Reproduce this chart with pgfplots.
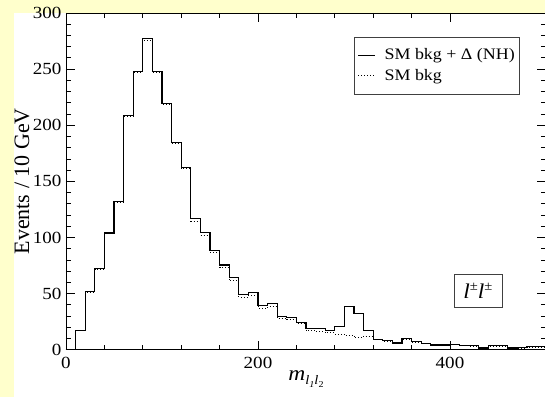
\documentclass[border=0pt]{standalone}
\usepackage{fontspec}
\setmainfont{Liberation Serif}[FakeStretch=1.12]
\newfontfamily\labfont{Liberation Serif}
\usepackage{pgfplots}
\pgfplotsset{compat=1.18}
\definecolor{bgyellow}{RGB}{255,255,204}
\begin{document}
\begin{tikzpicture}
\useasboundingbox (-66bp,-47.3bp) rectangle (479bp,349.7bp);
\fill[bgyellow] (-66bp,-47.3bp) rectangle (479bp,349.7bp);
\fill[white] (-52bp,-47.3bp) rectangle (479bp,336.7bp);
\begin{axis}[
  scale only axis, width=480bp, height=336.7bp,
  xmin=0, xmax=500, ymin=0, ymax=300,
  axis line style={line width=0.9bp},
  xtick={0,200,400}, minor x tick num=4,
  ytick={0,50,...,300}, minor y tick num=4,
  tick align=inside, xtick pos=both, ytick pos=both,
  major tick length=9bp, minor tick length=5bp,
  every tick/.style={black, line width=0.8bp},
  /pgf/number format/assume math mode=true,
  ticklabel style={font=\fontsize{17bp}{20bp}\selectfont, inner sep=1bp},
  xticklabel style={yshift=-6.2bp},
  yticklabel style={xshift=-3.4bp},
  xlabel={\textit{m}\raisebox{-0.45ex}{\fontsize{13bp}{14bp}\selectfont\textit{l}\raisebox{-0.4ex}{\fontsize{9bp}{10bp}\selectfont\textit{1}}\textit{l}\raisebox{-0.4ex}{\fontsize{9bp}{10bp}\selectfont 2}}},
  every axis x label/.style={at={(axis description cs:0.5,0)}, yshift=-29bp, anchor=center, font=\fontsize{21bp}{24bp}\selectfont},
  ylabel={Events / 10 GeV},
  every axis y label/.style={at={(axis description cs:0,0.5)}, xshift=-44bp, rotate=90, anchor=center, font=\labfont\fontsize{22bp}{26bp}\selectfont},
  legend style={at={(0.946,0.93)}, anchor=north east, draw=black!75, line width=0.6bp,
    font=\fontsize{16bp}{20bp}\selectfont, inner xsep=3bp, inner ysep=10bp, row sep=4bp},
  legend cell align=left,
  legend image code/.code={\draw[#1] (0bp,0bp) -- (17bp,0bp); \path (24bp,0bp);},
]
\addplot[const plot, black, line width=1.1bp] coordinates {
(0,0.5)(10,17.5)(20,52)(30,72)(40,104)(50,132)(60,208.5)(70,248)(80,277)(90,248)
(100,219.5)(110,184.5)(120,162.5)(130,116.5)(140,104.5)(150,88.5)(160,75.5)(170,64)(180,49.5)(190,51)
(200,39)(210,41)(220,29.5)(230,29)(240,24.5)(250,19)(260,18.5)(270,17.5)(280,20.5)(290,38.5)
(300,32.5)(310,17)(320,9.3)(330,8)(340,6)(350,10)(360,7)(370,5.7)(380,4.2)(390,4.2)
(400,4.6)(410,4)(420,3.5)(430,1.5)(440,3.5)(450,3.4)(460,1.5)(470,1.8)(480,2.6)(490,2.6)(500,2.6)};
\addlegendentry{SM bkg + Δ (NH)}
\addplot[const plot, black, line width=0.8bp, dash pattern=on 0.8bp off 2.2bp] coordinates {
(0,0.5)(10,17)(20,51.5)(30,71.5)(40,103.5)(50,131.5)(60,208)(70,247)(80,276)(90,247)
(100,218.5)(110,183.5)(120,161.5)(130,114.5)(140,102)(150,86.5)(160,73)(170,61.5)(180,47)(190,48.5)
(200,37)(210,38.5)(220,28)(230,27)(240,23.5)(250,17)(260,16)(270,15.2)(280,14)(290,13)
(300,10.7)(310,12.2)(320,9)(330,7.5)(340,5.8)(350,9)(360,6.5)(370,5.5)(380,4)(390,4)
(400,4.3)(410,3.5)(420,3)(430,1.3)(440,3.2)(450,3)(460,1.3)(470,1.5)(480,2.3)(490,2.3)(500,2.3)};
\addlegendentry{SM bkg}
\node[draw=black!75, line width=0.6bp, minimum width=48bp, minimum height=33bp, inner sep=0pt,
  font=\fontsize{21bp}{24bp}\selectfont] at (axis cs:429,52.5)
  {\textit{l}\raisebox{0.85ex}{\fontsize{13bp}{14bp}\selectfont ±}\textit{l}\raisebox{0.85ex}{\fontsize{13bp}{14bp}\selectfont ±}};
\end{axis}
\end{tikzpicture}
\end{document}
